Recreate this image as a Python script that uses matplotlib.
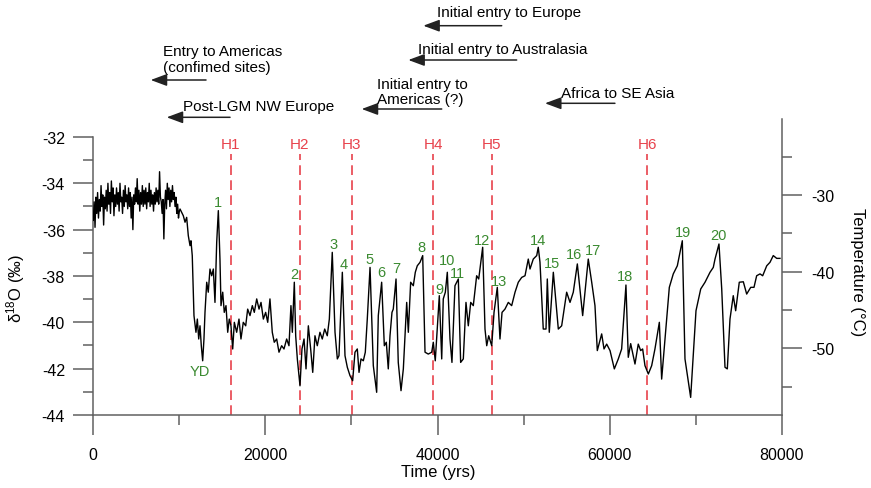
import matplotlib
matplotlib.use("Agg")
import matplotlib.pyplot as plt
import matplotlib.transforms as mtransforms
from matplotlib.ticker import FixedLocator
import numpy as np

plt.rcParams['font.family'] = ['Liberation Sans', 'DejaVu Sans']
plt.rcParams['mathtext.fontset'] = 'custom'
plt.rcParams['mathtext.rm'] = 'Liberation Sans'
plt.rcParams['mathtext.default'] = 'regular'
plt.rcParams['axes.unicode_minus'] = False
plt.rcParams['lines.scale_dashes'] = False

# ---------------- data ----------------
years_holocene = [0, 100, 200, 300, 400, 500, 600, 700, 800, 900,
                  1000, 1100, 1200, 1300, 1400, 1500, 1600, 1700, 1800, 1900,
                  2000, 2100, 2200, 2300, 2400, 2500, 2600, 2700, 2800, 2900,
                  3000, 3100, 3200, 3300, 3400, 3500, 3600, 3700, 3800, 3900,
                  4000, 4100, 4200, 4300, 4400, 4500, 4600, 4700, 4800, 4900,
                  5000, 5100, 5200, 5300, 5400, 5500, 5600, 5700, 5800, 5900,
                  6000, 6100, 6200, 6300, 6400, 6500, 6600, 6700, 6800, 6900,
                  7000, 7100, 7200, 7300, 7400, 7500, 7600, 7700, 7800, 7900,
                  8000, 8100, 8200, 8300, 8400, 8500, 8600, 8700, 8800, 8900,
                  9000, 9100, 9200, 9300, 9400, 9500, 9600, 9700, 9800, 9900,
                  10000]
d18o_holocene = [-35.6, -34.8, -35.9, -34.6, -35.3, -34.4, -35.5, -34.7, -35.2, -34.1,
                 -35.0, -34.5, -35.8, -34.6, -35.1, -34.3, -35.2, -34.0, -34.9, -34.4,
                 -35.3, -33.9, -34.8, -34.2, -35.4, -34.5, -35.0, -34.2, -34.9, -34.4,
                 -35.2, -34.0, -34.8, -34.6, -35.3, -34.3, -35.0, -34.1, -34.8, -34.5,
                 -35.1, -34.2, -35.0, -34.4, -35.5, -34.6, -36.0, -34.5, -34.9, -34.2,
                 -34.8, -33.8, -34.9, -34.3, -35.2, -34.4, -34.9, -34.1, -35.0, -34.3,
                 -34.9, -34.2, -35.1, -34.4, -34.8, -34.0, -35.0, -34.3, -34.9, -34.5,
                 -35.2, -34.4, -34.9, -34.2, -34.8, -34.3, -34.9, -33.5, -34.6, -34.8,
                 -35.3, -34.7, -36.4, -34.9, -34.3, -35.1, -34.0, -34.7, -34.2, -35.0,
                 -34.3, -34.8, -34.1, -34.7, -34.4, -35.0, -34.6, -35.3, -34.9, -35.5,
                 -35.2]

years_glacial = [10080, 10460, 10660, 10850, 11040, 11240, 11350, 11500, 11700, 11930,
                 12090, 12250, 12400, 12550, 12710, 12860, 12980, 13180, 13360, 13560,
                 13760, 13950, 14140, 14340, 14530, 14720, 14840, 15040, 15220, 15420,
                 15620, 15800, 16000, 16200, 16390, 16660, 16930, 17160, 17430, 17710,
                 17940, 18210, 18480, 18710, 18990, 19260, 19490, 19760, 20030, 20270,
                 20530, 20800, 21030, 21310, 21580, 21890, 22160, 22470, 22740, 22970,
                 23130, 23360, 23520, 23710, 24020, 24250, 24490, 24720, 24990, 25260,
                 25500, 25760, 26030, 26340, 26610, 26890, 27190, 27430, 27770, 28090,
                 28360, 28550, 28940, 29250, 29520, 29830, 30140, 30410, 30680, 30880,
                 31110, 31380, 31610, 31840, 32160, 32540, 32930, 33120, 33510, 33820,
                 34050, 34280, 34480, 34710, 34860, 35180, 35440, 35760, 36030, 36420,
                 36610, 36880, 37190, 37420, 37650, 37970, 38280, 38550, 38930, 39330,
                 39510, 39740, 40210, 40490, 40670, 40910, 41140, 41450, 41680, 42030,
                 42420, 42690, 43000, 43310, 43580, 43860, 44160, 44550, 44790, 45250,
                 45520, 45720, 45950, 46300, 46570, 46950, 47260, 47500, 47840, 48230,
                 48620, 49010, 49390, 49790, 50170, 50550, 50750, 51130, 51530, 51710,
                 51910, 52290, 52610, 52760, 52990, 53460, 54040, 54430, 55010, 55400,
                 55780, 56250, 56870, 57520, 57920, 58300, 58570, 59080, 59350, 59660,
                 60050, 60550, 61010, 61400, 61900, 62170, 62450, 62950, 63330, 63610,
                 63840, 64110, 64500, 64890, 65270, 65780, 66050, 66440, 66940, 67400,
                 67870, 68450, 68760, 69420, 70040, 70590, 71090, 71670, 72050, 72250,
                 72710, 73030, 73410, 73680, 73990, 74370, 74650, 75070, 75540, 75930,
                 76400, 76780, 77090, 77480, 77790, 78260, 78640, 79020, 79420, 79800]
d18o_glacial = [-35.11, -35.40, -35.68, -35.47, -36.26, -36.69, -36.48, -37.12, -39.71, -40.43,
                -39.86, -40.72, -40.15, -41.01, -41.66, -40.72, -39.57, -38.27, -38.70, -37.70,
                -37.99, -37.70, -39.14, -36.55, -35.18, -37.27, -39.28, -38.70, -39.57, -39.28,
                -40.43, -39.86, -40.15, -41.15, -40.00, -40.43, -39.86, -40.72, -40.00, -40.15,
                -39.43, -39.71, -39.28, -39.57, -38.99, -39.43, -39.14, -39.86, -39.57, -40.00,
                -38.99, -40.43, -40.86, -40.72, -41.29, -41.01, -41.15, -40.72, -41.01, -39.28,
                -40.43, -38.27, -40.58, -41.58, -42.74, -41.15, -40.72, -42.01, -40.15, -41.15,
                -42.16, -40.58, -41.01, -40.43, -40.72, -40.29, -40.58, -39.86, -36.98, -40.43,
                -41.58, -41.44, -37.84, -41.44, -41.94, -42.30, -42.52, -41.29, -41.15, -42.16,
                -41.58, -41.66, -41.29, -39.86, -37.63, -41.87, -43.02, -39.71, -38.27, -41.01,
                -40.86, -42.01, -40.58, -39.57, -39.43, -38.13, -41.73, -42.95, -42.01, -39.14,
                -40.43, -38.27, -38.42, -37.84, -37.56, -37.41, -37.12, -41.29, -41.37, -41.29,
                -40.86, -41.66, -38.85, -41.58, -38.99, -38.70, -37.84, -40.72, -41.73, -38.42,
                -38.13, -41.73, -41.58, -39.14, -40.15, -39.14, -39.28, -37.99, -38.13, -36.76,
                -40.29, -41.01, -40.58, -41.01, -39.57, -38.49, -40.72, -39.57, -39.43, -39.14,
                -39.28, -38.70, -38.27, -38.06, -37.99, -37.27, -37.70, -37.27, -37.12, -36.76,
                -37.41, -40.29, -40.29, -38.13, -40.43, -37.84, -40.29, -40.15, -38.70, -39.14,
                -38.70, -37.48, -39.71, -37.27, -38.27, -39.28, -41.22, -40.50, -41.15, -40.94,
                -41.22, -42.01, -41.58, -41.15, -38.39, -41.51, -40.92, -41.80, -40.94, -41.22,
                -41.15, -41.87, -42.23, -41.87, -41.15, -40.00, -42.45, -40.72, -38.49, -37.91,
                -37.56, -36.48, -41.58, -43.24, -39.50, -38.56, -38.27, -37.84, -37.63, -37.27,
                -36.62, -38.56, -41.94, -42.01, -39.86, -38.85, -39.50, -38.27, -38.25, -38.78,
                -38.49, -38.49, -37.99, -37.91, -37.99, -37.56, -37.41, -37.12, -37.24, -37.24]

heinrich_labels = ['H1', 'H2', 'H3', 'H4', 'H5', 'H6']
heinrich_years = [16000, 24000, 30050, 39500, 46300, 64400]

event_labels = ['YD', '1', '2', '3', '4', '5', '6', '7', '8', '9', '10',
                '11', '12', '13', '14', '15', '16', '17', '18', '19', '20']
event_years = [12400, 14530, 23320, 27890, 29050, 32070, 33430, 35250, 38160, 40210,
               41060, 42300, 45130, 47180, 51710, 53340, 55900, 58110, 61790, 68490, 72630]
event_d18o = [-42.09, -34.79, -37.91, -36.62, -37.48, -37.27, -37.82, -37.67, -36.76, -38.56,
              -37.30, -37.88, -36.43, -38.23, -36.43, -37.44, -37.05, -36.87, -38.01, -36.09, -36.23]

migration_texts = ['Initial entry to Europe', 'Initial entry to Australasia',
                   'Initial entry to\nAmericas (?)', 'Africa to SE Asia',
                   'Entry to Americas\n(confimed sites)', 'Post-LGM NW Europe']
migration_head_years = [38350, 36610, 31190, 52490, 6670, 8530]
migration_tail_years = [47460, 49200, 40490, 60620, 13100, 15890]
migration_text_years = [39910, 37770, 32930, 54350, 8070, 10390]

x_major = [0, 20000, 40000, 60000, 80000]
x_minor = [10000, 30000, 50000, 70000]
y_major = [-44, -42, -40, -38, -36, -34, -32]
y_minor = [-43, -41, -39, -37, -35, -33]
t_major = [-50, -40, -30]
t_minor = [-55, -45, -35, -25]

# ---------------- figure ----------------
W, H = 871, 489
fig = plt.figure(figsize=(W / 100, H / 100), dpi=100)
L, R, B, T = 93.3, 781.7, 416.0, 120.0
ax = fig.add_axes([L / W, 1 - B / H, (R - L) / W, (B - T) / H])

spine_col = '#606060'
green = '#3a8a30'
red = '#e8424c'

years = years_holocene + years_glacial
d18o = d18o_holocene + d18o_glacial
ax.plot(years, d18o, color='black', lw=1.0, zorder=3)

ax.set_xlim(0, 80000)
ax.set_ylim(-44, -44 + (B - T) / 23.17)

for s in ['top', 'right']:
    ax.spines[s].set_visible(False)
for s in ['left', 'bottom']:
    ax.spines[s].set_color(spine_col)
    ax.spines[s].set_linewidth(1.1)
ax.spines['left'].set_bounds(-44, -32)

ax.xaxis.set_major_locator(FixedLocator(x_major))
ax.xaxis.set_minor_locator(FixedLocator(x_minor))
ax.yaxis.set_major_locator(FixedLocator(y_major))
ax.yaxis.set_minor_locator(FixedLocator(y_minor))
ax.set_xticklabels([str(v) for v in x_major])
ax.set_yticklabels([str(v) for v in y_major])
ax.tick_params(axis='both', which='major', length=14.4, width=1.1, color=spine_col,
               labelsize=11.5, direction='out')
ax.tick_params(axis='both', which='minor', length=7.2, width=1.1, color=spine_col,
               direction='out')
ax.tick_params(axis='x', which='major', pad=9)
ax.tick_params(axis='y', which='major', pad=6)

ax2 = ax.twinx()
ax2.set_ylim(-40 - (B - 272.7) / 7.667, -40 + (272.7 - T) / 7.667)
for s in ['top', 'left', 'bottom']:
    ax2.spines[s].set_visible(False)
ax2.spines['right'].set_color(spine_col)
ax2.spines['right'].set_linewidth(1.1)
ax2.yaxis.set_major_locator(FixedLocator(t_major))
ax2.yaxis.set_minor_locator(FixedLocator(t_minor))
ax2.set_yticklabels([str(v) for v in t_major])
ax2.tick_params(axis='y', which='major', length=14.4, width=1.1, color=spine_col,
                labelsize=11.5, pad=7)
ax2.tick_params(axis='y', which='minor', length=7.2, width=1.1, color=spine_col)

# Heinrich events
for lab, yr in zip(heinrich_labels, heinrich_years):
    ln, = ax.plot([yr, yr], [-44, -32.74], color=red, lw=1.2, zorder=2)
    ln.set_dashes([7, 3.8])
    ax.text(yr, -32.3, lab, color=red, fontsize=11, ha='center', va='center')

# event numbers
for lab, yr, dv in zip(event_labels, event_years, event_d18o):
    ax.text(yr, dv, lab, color=green, fontsize=10.5, ha='center', va='center', zorder=4)

# migration arrows
trans = mtransforms.blended_transform_factory(ax.transData, ax.transAxes)
arrow_y_px = [26.7, 61.0, 110.0, 104.3, 81.0, 118.3]
text_y_px = [13.3, 50.0, 92.5, 94.3, 60.0, 107.3]
for txt, hy, ty, tx, ayp, typ in zip(migration_texts, migration_head_years,
                                      migration_tail_years, migration_text_years,
                                      arrow_y_px, text_y_px):
    fy = (B - ayp) / (B - T)
    ax.annotate('', xy=(hy, fy), xytext=(ty, fy), xycoords=trans, textcoords=trans,
                annotation_clip=False,
                arrowprops=dict(arrowstyle='-|>,head_length=0.7,head_width=0.26',
                                mutation_scale=14, color='#222222', lw=1.1,
                                shrinkA=0, shrinkB=0))
    ax.text(tx, (B - typ) / (B - T), txt, transform=trans, fontsize=11,
            ha='left', va='center', linespacing=1.15, clip_on=False)

# axis labels
fig.text(16 / W, 1 - 288 / H, 'δ$^{18}$O (‰)', rotation=90, ha='center', va='center',
         fontsize=12)
fig.text(857 / W, 1 - 272 / H, 'Temperature (°C)', rotation=270, ha='center',
         va='center', fontsize=12)
fig.text(438 / W, 1 - 472 / H, 'Time (yrs)', ha='center', va='center', fontsize=12)

fig.savefig('out.png', dpi=100)
